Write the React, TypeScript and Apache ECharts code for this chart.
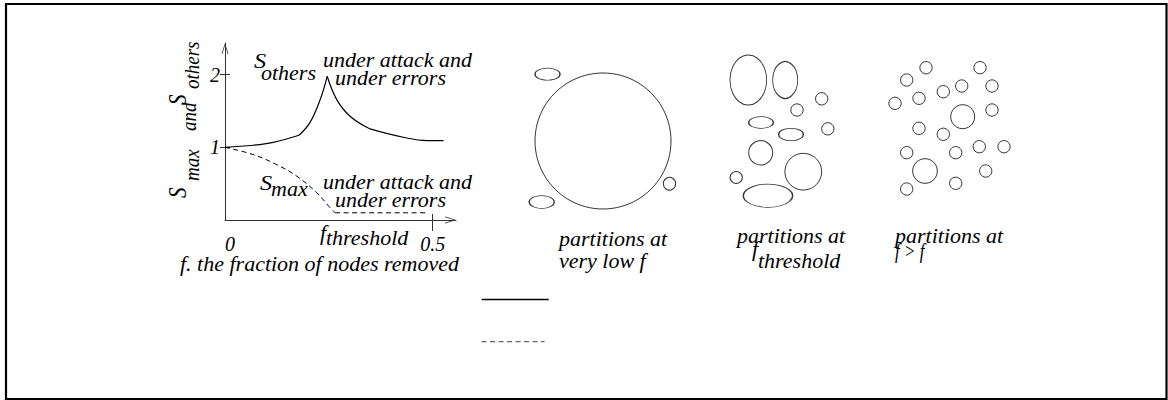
import React, { useEffect, useRef } from 'react';
import * as echarts from 'echarts';

// ---- data: relative cluster sizes vs fraction of nodes removed (f) ----
// S_others (solid), split at its kinks so each piece can be smoothed separately
const othersRise = [[0, 1.0], [0.068, 1.028], [0.116, 1.069], [0.178, 1.166]];
const othersClimb = [[0.178, 1.166], [0.204, 1.336], [0.229, 1.656], [0.246, 1.977]];
const othersFall = [[0.246, 1.977], [0.269, 1.656], [0.301, 1.427], [0.347, 1.258]];
const othersTail = [[0.347, 1.258], [0.429, 1.138], [0.486, 1.093], [0.526, 1.093]];
// S_max (dashed)
const maxDrop = [[0, 1.0], [0.068, 0.9], [0.124, 0.763], [0.173, 0.602], [0.221, 0.374], [0.253, 0.168], [0.265, 0.099]];
const maxFlat = [[0.265, 0.099], [0.49, 0.099]];

const xTickValues = [0.5];
const xLabelValues = [0, 0.5];
const yTickValues = [1, 2];

// ---- partitions: [dx, dy, width, height] relative to each panel centre ----
const partitionsLowF = [
  [0, 0, 136, 136],
  [-55.5, -66.8, 25, 12],
  [-61.3, 61, 25, 12.7],
  [66.5, 42.7, 12.3, 12.7],
];
const partitionsThreshold = [
  [-31.7, -51, 36.7, 50],
  [5.2, -51, 25, 36.7],
  [41.7, -32.2, 12.3, 12.3],
  [17, -21, 12.3, 12.3],
  [-19, -8.5, 24.7, 11.7],
  [11, 3.5, 24.7, 12.3],
  [47.8, -2.2, 12.3, 12.3],
  [-19.3, 21.8, 24, 24.3],
  [23.3, 40.7, 36.7, 36.7],
  [-43.8, 46.5, 12.3, 11.7],
  [-12, 64.7, 49.3, 23.3],
];
const partitionsHighF = [
  [-24, -60.3, 12.3, 12.3], [30, -60.3, 12.3, 12.3], [-43.3, -48, 12.3, 12.3],
  [11.7, -42, 12.3, 12.3], [42, -42, 12.3, 12.3], [-6.7, -36.3, 12.3, 12.3],
  [-31, -29.7, 12.3, 12.3], [-55, -24.7, 12.3, 12.3], [42, -18, 12.3, 12.3],
  [12.7, -11.3, 24, 24], [-31, 0.3, 12.3, 12.3], [-6.7, 6.3, 12.3, 12.3],
  [29.3, 18.7, 12.3, 12.3], [54, 18.7, 12.3, 12.3], [-43.3, 24.7, 12.3, 12.3],
  [5.7, 24.7, 12.3, 12.3], [-25, 43, 24.7, 24.7], [35.7, 43, 12.3, 12.3],
  [5.7, 55.3, 12.3, 12.3], [-43.3, 61, 12.3, 12.3],
];

// ---- layout ----
const PANEL_CENTERS: [number, number][] = [[603, 141], [780, 131], [950, 128]];
const FONT = 'Liberation Serif, Times New Roman, serif';
const FS = 20;
const SX = 1.1;
const RFS = 19;
const ARROW = 'path://M0,11 L3.5,0 L7,11 L6.2,11.3 L3.5,2.3 L0.8,11.3 Z';
const AXIS_COLOR = '#333';

const txt = (text: string, x: number, baseline: number, sx = SX, fs = FS) => ({
  type: 'text',
  x,
  y: baseline - 0.35 * fs,
  scaleX: sx,
  silent: true,
  style: {
    text,
    fontFamily: FONT,
    fontStyle: 'italic',
    fontSize: fs,
    fill: '#000',
    textAlign: 'left',
    textVerticalAlign: 'middle',
  },
});

const rtxt = (text: string, along: number, baseLocal: number, fs = RFS) => ({
  type: 'text',
  x: along,
  y: baseLocal - 0.35 * fs,
  silent: true,
  style: {
    text,
    fontFamily: FONT,
    fontStyle: 'italic',
    fontSize: fs,
    fill: '#000',
    textAlign: 'left',
    textVerticalAlign: 'middle',
  },
});

function buildPartitionData() {
  const groups = [partitionsLowF, partitionsThreshold, partitionsHighF];
  const out: number[][] = [];
  groups.forEach((g, i) => {
    const [cx, cy] = PANEL_CENTERS[i];
    g.forEach(([dx, dy, w, h]) => out.push([cx + dx, cy + dy, w, h]));
  });
  return out;
}

export default function App() {
  const ref = useRef<HTMLDivElement>(null);
  useEffect(() => {
    document.body.style.margin = '0';
    const chart = echarts.init(ref.current!, null, { renderer: 'svg' });
    const SOLID = { color: '#000', width: 1.2 };
    const DASHED = { color: '#000', width: 1, type: [5, 3.5] };
    const lineBase = {
      type: 'line', xAxisIndex: 0, yAxisIndex: 0, symbol: 'none', showSymbol: false, silent: true, z: 3,
      itemStyle: { color: '#000' },
    };
    const labelFont = { fontFamily: FONT, fontStyle: 'italic', fontSize: 20, color: '#000' };

    const option: any = {
      animation: false,
      backgroundColor: '#fff',
      grid: [
        { left: 225, top: 43, width: 231, height: 177 },
        { left: 0, top: 0, width: 1168, height: 400 },
      ],
      xAxis: [
        {
          gridIndex: 0, type: 'value', min: 0, max: 0.556,
          axisLine: { show: true, onZero: false, lineStyle: { color: AXIS_COLOR, width: 1 }, symbol: ['none', ARROW], symbolSize: [7, 11], symbolOffset: [0, -5.5] },
          axisTick: { show: true, inside: true, length: 6, customValues: xTickValues, lineStyle: { color: AXIS_COLOR } },
          axisLabel: {
            customValues: xLabelValues, margin: 14,
            formatter: (v: number) => (v === 0 ? '{z|0}' : '{a|' + v + '}'),
            rich: { z: { ...labelFont, padding: [0, 0, 0, 10] }, a: { ...labelFont } },
          },
          splitLine: { show: false },
        },
        {
          gridIndex: 0, type: 'value', min: 0, max: 0.556, position: 'bottom',
          axisLine: { show: false, onZero: false },
          axisTick: { show: true, inside: false, length: 11, customValues: xTickValues, lineStyle: { color: AXIS_COLOR } },
          axisLabel: { show: false }, splitLine: { show: false },
        },
        { gridIndex: 1, type: 'value', min: 0, max: 1168, show: false },
      ],
      yAxis: [
        {
          gridIndex: 0, type: 'value', min: 0, max: 2.435, position: 'left',
          axisLine: { show: true, onZero: false, lineStyle: { color: AXIS_COLOR, width: 1 }, symbol: ['none', ARROW], symbolSize: [7, 11], symbolOffset: [0, -5.5] },
          axisTick: { show: true, inside: true, length: 5, customValues: yTickValues, lineStyle: { color: AXIS_COLOR } },
          axisLabel: { customValues: yTickValues, margin: 5, ...labelFont },
          splitLine: { show: false },
        },
        {
          gridIndex: 0, type: 'value', min: 0, max: 2.435, position: 'left',
          axisLine: { show: false, onZero: false },
          axisTick: { show: true, inside: false, length: 5, customValues: yTickValues, lineStyle: { color: AXIS_COLOR } },
          axisLabel: { show: false }, splitLine: { show: false },
        },
        { gridIndex: 1, type: 'value', min: 0, max: 400, inverse: true, show: false },
      ],
      legend: [
        {
          data: [{ name: 'S_others' }], left: 481, top: 292.5, padding: 0, orient: 'vertical',
          itemWidth: 67, itemHeight: 14, selectedMode: false, formatter: () => '',
          lineStyle: { width: 1.3, color: '#000' }, itemStyle: { opacity: 0 },
        },
        {
          data: [{ name: 'S_max' }], left: 481, top: 334.7, padding: 0, orient: 'vertical',
          itemWidth: 63, itemHeight: 14, selectedMode: false, formatter: () => '',
          lineStyle: { width: 1.2, color: '#666' }, itemStyle: { opacity: 0 },
        },
      ],
      series: [
        { ...lineBase, name: 'S_others', data: othersRise, smooth: 0.4, lineStyle: SOLID },
        { ...lineBase, name: 'S_others', data: othersClimb, smooth: 0.4, lineStyle: SOLID },
        { ...lineBase, name: 'S_others', data: othersFall, smooth: 0.4, lineStyle: SOLID },
        { ...lineBase, name: 'S_others', data: othersTail, smooth: 0.4, lineStyle: SOLID },
        { ...lineBase, name: 'S_max', data: maxDrop, smooth: 0.4, lineStyle: DASHED },
        { ...lineBase, name: 'S_max', data: maxFlat, smooth: false, lineStyle: DASHED },
        {
          type: 'scatter', name: 'partitions', xAxisIndex: 2, yAxisIndex: 2, silent: true,
          data: buildPartitionData(), symbol: 'circle',
          symbolSize: (v: number[]) => [v[2], v[3]],
          itemStyle: { color: 'rgba(0,0,0,0)', borderColor: '#000', borderWidth: 1 },
        },
      ],
      graphic: [
        { type: 'rect', silent: true, shape: { x: 6, y: 4, width: 1160.5, height: 395 }, style: { fill: 'none', stroke: '#000', lineWidth: 2.2 } },
        txt('S', 254, 68, SX, 22),
        txt('others', 261, 80),
        txt('under attack and', 323, 67),
        txt('under errors', 335, 85),
        txt('S', 260, 190, SX, 22),
        txt('max', 271, 196),
        txt('under attack and', 323, 189),
        txt('under errors', 335, 207),
        txt('f', 320, 240),
        txt('threshold', 326, 245),
        txt('f. the fraction of nodes removed', 180, 271),
        txt('partitions at', 559, 246),
        txt('very low f', 559, 268),
        txt('partitions at', 737, 243),
        txt('f', 752, 256),
        txt('threshold', 758, 268),
        txt('partitions at', 895, 243),
        txt('f > f', 895, 258, 0.85),
        {
          type: 'group', x: 186, y: 198, rotation: Math.PI / 2, scaleY: 1.15,
          children: [
            rtxt('S', 0, 0, 21),
            rtxt('max', 17, 11.5),
            rtxt('and', 67, 8.5),
            rtxt('S', 93, 0, 21),
            rtxt('others', 109, 11.5),
          ],
        },
      ],
    };
    chart.setOption(option);
    return () => chart.dispose();
  }, []);
  return <div ref={ref} style={{ width: 1168, height: 400 }} />;
}
